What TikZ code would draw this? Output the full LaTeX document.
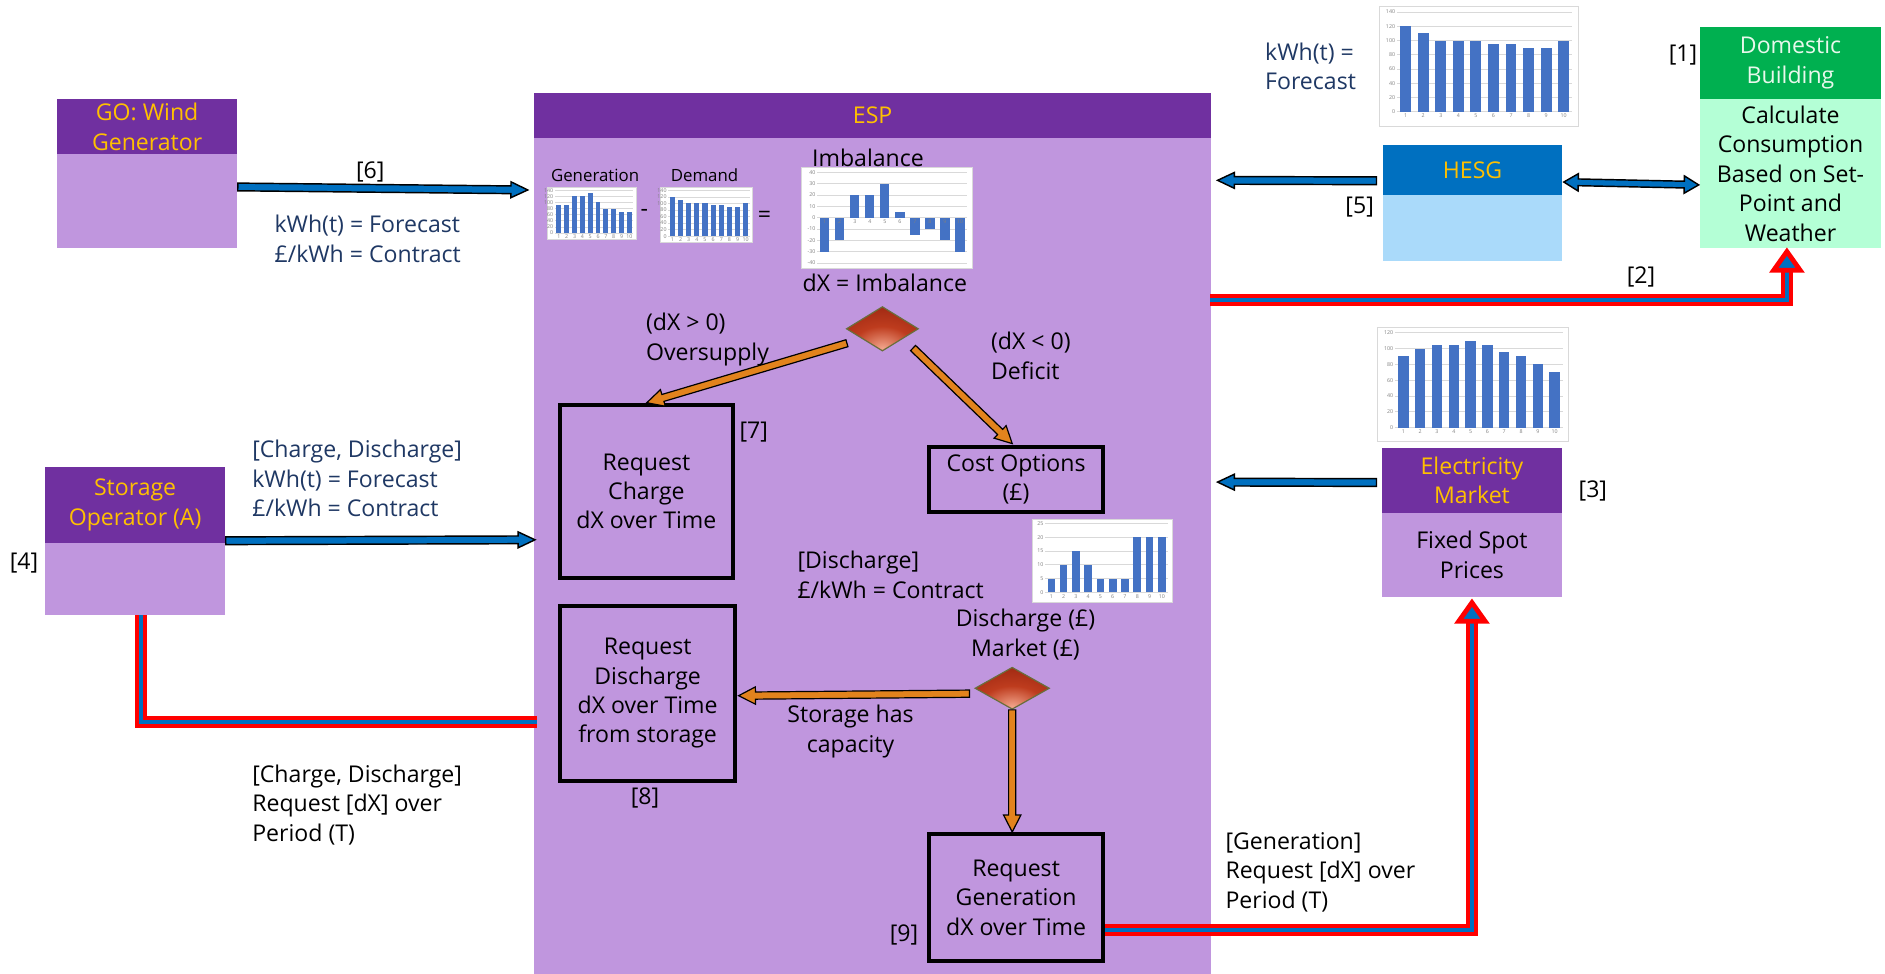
\documentclass[tikz,border=0pt]{standalone}
\usepackage{fontspec}
\setmainfont{Open Sans}
\usetikzlibrary{calc,shapes.geometric}

% palette
\definecolor{hdrpurple}{RGB}{112,48,160}
\definecolor{lavender}{RGB}{192,150,222}
\definecolor{gold}{RGB}{255,192,0}
\definecolor{hesgblue}{RGB}{0,112,192}
\definecolor{hesglight}{RGB}{170,218,250}
\definecolor{domgreen}{RGB}{0,176,80}
\definecolor{dommint}{RGB}{180,255,214}
\definecolor{domtext}{RGB}{232,248,236}
\definecolor{navy}{RGB}{31,56,100}
\definecolor{arrowblue}{RGB}{0,112,192}
\definecolor{arroworange}{RGB}{226,131,29}
\definecolor{barblue}{RGB}{68,114,196}
\definecolor{feedred}{RGB}{255,0,0}
\definecolor{chartgrid}{RGB}{217,217,217}
\definecolor{diaLight}{RGB}{242,165,140}
\definecolor{diaMid}{RGB}{190,60,30}
\definecolor{diaDark}{RGB}{150,35,15}
\definecolor{diaEdge}{RGB}{105,110,60}

\pgfdeclareradialshading{diashade}{\pgfpoint{0bp}{-22bp}}{color(0bp)=(diaLight); color(20bp)=(diaMid); color(45bp)=(diaDark); color(90bp)=(diaDark)}

\newcommand{\bodyfont}{\fontsize{9.6}{12.25}\selectfont}

% block arrow with one head: style, tail, tip, shaft half width, head half width, head length
\newcommand{\blockarrow}[6]{%
  \path #2 coordinate (baA) #3 coordinate (baB);
  \coordinate (baP) at ($(baB)!#6!(baA)$);
  \draw[#1] ($(baA)!#4!90:(baB)$) -- ($(baP)!#4!90:(baB)$) -- ($(baP)!#5!90:(baB)$)
    -- (baB) -- ($(baP)!#5!-90:(baB)$) -- ($(baP)!#4!-90:(baB)$) -- ($(baA)!#4!-90:(baB)$) -- cycle;
}
% block arrow with heads at both ends
\newcommand{\dblarrow}[6]{%
  \path #2 coordinate (baA) #3 coordinate (baB);
  \coordinate (baP) at ($(baB)!#6!(baA)$);
  \coordinate (baQ) at ($(baA)!#6!(baB)$);
  \draw[#1] (baA) -- ($(baQ)!#5!90:(baB)$) -- ($(baQ)!#4!90:(baB)$) -- ($(baP)!#4!90:(baB)$)
    -- ($(baP)!#5!90:(baB)$) -- (baB) -- ($(baP)!#5!-90:(baB)$) -- ($(baP)!#4!-90:(baB)$)
    -- ($(baQ)!#4!-90:(baB)$) -- ($(baQ)!#5!-90:(baB)$) -- cycle;
}
% red-edged feed line: horizontal, then up into a head
\newcommand{\feedarrow}[2]{%
  \path #1 coordinate (fA) #2 coordinate (fT);
  \coordinate (fB) at ($(fT)+(0,18)$);
  \draw[feedouter] (fA) -| (fB);
  \draw[feedinner] (fA) -| (fB);
  \draw[feedhead] ($(fT)+(0,2.5)$) -- ($(fB)+(11,0)$) -- ($(fB)+(-11,0)$) -- cycle;
}
% small bar chart: [bottom fraction] left, top, width, height, ymin, ymax, grid values, bar values
\newcommand{\minichart}[9][0.88]{%
  \begin{scope}[shift={(#2,#3)}]
    \pgfmathsetmacro{\mcL}{0.09*#4}
    \pgfmathsetmacro{\mcR}{0.97*#4}
    \pgfmathsetmacro{\mcT}{0.05*#5}
    \pgfmathsetmacro{\mcB}{#1*#5}
    \pgfmathsetmacro{\mcK}{(\mcB-\mcT)/(#7-(#6))}
    \pgfmathsetmacro{\mcZ}{\mcB+(#6)*\mcK}
    \pgfmathsetmacro{\mcS}{(\mcR-\mcL)/10}
    \filldraw[fill=white, draw=chartgrid, line width=0.3pt] (0,0) rectangle (#4,#5);
    \foreach \g in {#8} {
      \pgfmathsetmacro{\gy}{\mcB-(\g-(#6))*\mcK}
      \draw[chartgrid, line width=0.3pt] (\mcL,\gy) -- (\mcR,\gy);
      \node[charttick, anchor=east] at (\mcL-0.5,\gy) {\g};
    }
    \foreach \v [count=\i] in {#9} {
      \pgfmathsetmacro{\bx}{\mcL+(\i-0.5)*\mcS}
      \pgfmathsetmacro{\by}{\mcB-(\v-(#6))*\mcK}
      \fill[barblue] (\bx-0.31*\mcS,\mcZ) rectangle (\bx+0.31*\mcS,\by);
      \node[charttick, anchor=north] at (\bx,\mcZ+0.6) {\i};
    }
  \end{scope}}

\tikzset{
  hdr/.style={fill=hdrpurple, text=gold, inner sep=0pt, align=center, anchor=north west},
  bodybox/.style={fill=lavender, inner sep=0pt, align=center, anchor=north west},
  proc/.style={draw=black, line width=1.7pt, fill=lavender, inner sep=0pt, align=center, anchor=north west},
  lbl/.style={inner sep=0pt, align=left, text=black},
  navylbl/.style={inner sep=0pt, align=left, text=navy},
  small/.style={inner sep=0pt, font=\fontsize{7}{8}\selectfont},
  charttick/.style={inner sep=0.3pt, text=black!50, font=\fontsize{2.2}{2.4}\selectfont},
  decision/.style={diamond, inner sep=0pt, shade, shading=diashade, draw=diaEdge, line width=0.5pt},
  bluearrow/.style={fill=arrowblue, draw=black, line width=0.6pt, line join=miter},
  orangearrow/.style={fill=arroworange, draw=black, line width=0.5pt, line join=miter},
  feedouter/.style={draw=feedred, line width=5pt, line join=miter},
  feedinner/.style={draw=arrowblue, line width=1.5pt, line join=miter},
  feedhead/.style={fill=arrowblue, draw=feedred, line width=2pt, line join=miter}
}

\begin{document}
\begin{tikzpicture}[x=0.5pt, y=-0.5pt, font=\bodyfont]
\useasboundingbox (0,0) rectangle (1568,810);
\fill[white] (0,0) rectangle (1568,810);

% ESP frame
\node[hdr, minimum width=281.5pt, minimum height=18.75pt] (esphdr) at (444,77) {ESP};
\node[bodybox, minimum width=281.5pt, minimum height=348pt] (espbody) at (444,114.5) {};

% participants
\node[hdr, minimum width=75pt, minimum height=23pt] (gohdr) at (47,82) {GO: Wind\\Generator};
\node[bodybox, minimum width=75pt, minimum height=39pt] (gobody) at (47,128) {};

\node[hdr, fill=hesgblue, minimum width=74.5pt, minimum height=21pt] (hesghdr) at (1150,120) {HESG};
\node[bodybox, fill=hesglight, minimum width=74.5pt, minimum height=27.5pt] (hesgbody) at (1150,162) {};

\node[hdr, fill=domgreen, text=domtext, minimum width=75pt, minimum height=30pt] (domhdr) at (1414,22) {Domestic\\Building};
\node[bodybox, fill=dommint, minimum width=75pt, minimum height=62pt] (dombody) at (1414,82) {Calculate\\Consumption\\Based on Set-\\Point and\\Weather};

\node[hdr, minimum width=75pt, minimum height=27pt] (mkthdr) at (1149,372) {Electricity\\Market};
\node[bodybox, minimum width=75pt, minimum height=35pt] (mktbody) at (1149,426) {Fixed Spot\\Prices};

\node[hdr, minimum width=75pt, minimum height=31.5pt] (sthdr) at (37,388) {Storage\\Operator (A)};
\node[bodybox, minimum width=75pt, minimum height=30pt] (stbody) at (37,451) {};

% profiles
\minichart{1147}{5}{166}{100}{0}{140}{0,20,...,140}{120,110,100,100,100,95,95,90,90,100}
\minichart{1146}{272}{159}{95}{0}{120}{0,20,...,120}{90,100,105,105,110,105,95,90,80,70}
\minichart{455}{156}{74}{43}{0}{140}{0,20,...,140}{90,90,120,120,130,100,80,80,70,70}
\minichart{549}{156}{77}{46}{0}{140}{0,20,...,140}{120,110,100,100,100,95,95,90,90,100}
\minichart[0.95]{667}{139}{142}{84}{-40}{40}{-40,-30,...,40}{-30,-20,20,20,30,5,-15,-10,-20,-30}
\minichart{859}{432}{116}{69}{0}{25}{0,5,...,25}{5,10,15,10,5,5,5,20,20,20}

% process steps
\node[proc, minimum width=72pt, minimum height=72pt] (rcharge) at (464,335) {Request\\Charge\\dX over Time};
\node[proc, minimum width=72.5pt, minimum height=27pt] (cost) at (771,370) {Cost Options\\(£)};
\node[proc, minimum width=73pt, minimum height=73pt] (rdis) at (464,502) {Request\\Discharge\\dX over Time\\from storage};
\node[proc, minimum width=72.5pt, minimum height=53pt] (rgen) at (771,692) {Request\\Generation\\dX over Time};

\node[decision, minimum width=30pt, minimum height=18.5pt] (d1) at (734,273.5) {};
\node[decision, minimum width=31pt, minimum height=17.5pt] (d2) at (842,572.5) {};

% labels
\node[lbl] (n1) at (1400,46) {[1]};
\node[lbl] (n2) at (1365,230) {[2]};
\node[lbl] (n3) at (1325,408) {[3]};
\node[lbl] (n4) at (20,468) {[4]};
\node[lbl] (n5) at (1131,172) {[5]};
\node[lbl] (n6) at (308,143) {[6]};
\node[lbl] (n7) at (627,359) {[7]};
\node[lbl] (n8) at (536.5,664) {[8]};
\node[lbl] (n9) at (752,778) {[9]};

\node[navylbl, anchor=west] (gofc) at (228,198.5) {kWh(t) = Forecast\\£/kWh = Contract};
\node[navylbl, anchor=west] (hfc) at (1052,55) {kWh(t) =\\Forecast};
\node[navylbl, anchor=west] (stfc) at (209.5,398) {[Charge, Discharge]\\kWh(t) = Forecast\\£/kWh = Contract};
\node[lbl, anchor=west] (streq) at (209.5,669.5) {[Charge, Discharge]\\Request [dX] over\\Period (T)};
\node[lbl, anchor=west] (genreq) at (1019,725.5) {[Generation]\\Request [dX] over\\Period (T)};

\node[small] (genlbl) at (495,146) {Generation};
\node[small] (demlbl) at (586,146) {Demand};
\node[lbl] (minus) at (536,177) {-};
\node[lbl] (eq) at (636,180) {=};
\node[lbl] (imblbl) at (722,131) {Imbalance};
\node[lbl] (dxlbl) at (736,235) {dX = Imbalance};
\node[lbl, anchor=west] (over) at (537,282.5) {(dX > 0)\\Oversupply};
\node[lbl, anchor=west] (defc) at (824,296) {(dX < 0)\\Deficit};
\node[lbl, anchor=west] (dcon) at (663,478) {[Discharge]\\£/kWh = Contract};
\node[lbl, align=center] (dmkt) at (853,528) {Discharge (£)\\Market (£)};
\node[lbl, align=center] (cap) at (707.5,608.5) {Storage has\\capacity};

% information flows
\blockarrow{bluearrow}{($(gobody.north east)+(0,27.5)$)}{($(espbody.north west)+(-5,43.5)$)}{1.6pt}{3.3pt}{7pt}
\blockarrow{bluearrow}{($(hesghdr.west)+(-5,9)$)}{($(espbody.north east)+(5,35.5)$)}{1.6pt}{3.3pt}{7pt}
\blockarrow{bluearrow}{($(mkthdr.west)+(-4,2)$)}{($(espbody.north east)+(5,286.5)$)}{1.6pt}{3.3pt}{7pt}
\blockarrow{bluearrow}{($(sthdr.south east)+(0,-2)$)}{($(espbody.north west)+(1,334.5)$)}{1.6pt}{3.3pt}{7pt}
\dblarrow{bluearrow}{($(hesghdr.east)+(1,10)$)}{($(domhdr.south west)+(-1,71)$)}{1.4pt}{3.6pt}{6pt}

% decision flows
\blockarrow{orangearrow}{($(d1.west)+(1,12)$)}{($(rcharge.north west)+(74,0)$)}{1.5pt}{3.6pt}{7pt}
\blockarrow{orangearrow}{($(d1.east)+(-5,16)$)}{($(cost.north west)+(71,-1)$)}{1.5pt}{3.6pt}{7pt}
\blockarrow{orangearrow}{($(d2.west)+(-4,4.5)$)}{($(rdis.east)+(1,2)$)}{1.5pt}{3.6pt}{7pt}
\blockarrow{orangearrow}{(d2.south)}{(d2.south |- rgen.north)}{1.5pt}{3.6pt}{7pt}

% requests
\feedarrow{($(espbody.north east)+(-1,135)$)}{($(dombody.south)+(-3,0)$)}
\feedarrow{($(rgen.east)+(0,27)$)}{($(mktbody.south)+(0,2)$)}
\coordinate (stEnd) at ($(espbody.north west)+(3,486)$);
\draw[feedouter] ($(stbody.south)+(5,0)$) |- (stEnd);
\draw[feedinner] ($(stbody.south)+(5,0)$) |- (stEnd);
\end{tikzpicture}
\end{document}
